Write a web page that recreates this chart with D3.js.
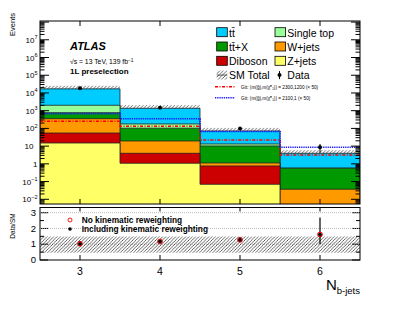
<!doctype html>
<html>
<head>
<meta charset="utf-8">
<title>Nb-jets 1L preselection</title>
<script src="https://d3js.org/d3.v7.min.js"></script>
<style>
  body { margin: 0; background: #fff; }
  text { font-family: "Liberation Sans", Arial, sans-serif; }
</style>
</head>
<body>
<script>
// bins (N b-jets)
var binCenters = [3, 4, 5, 6];
var binEdges = [2.5, 3.5, 4.5, 5.5, 6.5];
var xTickLabels = ["3", "4", "5", "6"];

// backgrounds, stacked bottom -> top
var zjets     = [15, 1.08, 0.07, 0.001];
var diboson   = [40, 2.86, 0.69, 0.002];
var wjets     = [299, 15.6, 0.36, 0.034];
var ttx       = [417, 83.5, 9.1, 0.53];
var singletop = [1247, 75, 3.0, 0.01];
var ttbar     = [15000, 1187, 58.3, 3.37];

// data
var data      = [18400, 1480, 100, 8.6];
var dataErrLo = [135, 38, 10, 4.3];
var dataErrHi = [135, 38, 10, 4.6];

// signals (x 50)
var sigA = [252, 132, 22.2, 3.16];   // 2300,1200
var sigB = [678, 354, 67, 8.6];      // 2100,1

// SM total uncertainty (relative)
var uncLo = [0.46, 0.46, 0.46, 0.46];
var uncHi = [1.49, 1.49, 1.49, 1.49];

// ratio panel
var ratioNoRW   = [1.03, 1.17, 1.28, 1.62];
var ratioRW     = [1.02, 1.17, 1.27, 1.60];
var ratioErrLo  = [0.01, 0.03, 0.12, 0.59];
var ratioErrHi  = [0.01, 0.03, 0.12, 1.10];

var layers = [
  {name: "Z+jets", vals: zjets, color: "#ffff66"},
  {name: "Diboson", vals: diboson, color: "#cc0000"},
  {name: "W+jets", vals: wjets, color: "#ff9900"},
  {name: "t\u0074\u0304+X", vals: ttx, color: "#009900"},
  {name: "Single top", vals: singletop, color: "#99ff99"},
  {name: "t\u0074\u0304", vals: ttbar, color: "#00ccff"}
];

var blueDot = {stroke: "#1a1aff", width: 1.6, dash: "1.3,0.9"};
var redDash = {stroke: "#ff0000", width: 1.4, dash: "3,1.5,1,1.5"};

var svg = d3.select("body").append("svg")
  .attr("width", 407).attr("height", 315);

var defs = svg.append("defs");
function hatch(id, s) {
  var p = defs.append("pattern").attr("id", id)
    .attr("patternUnits", "userSpaceOnUse")
    .attr("width", s).attr("height", s);
  p.append("path")
    .attr("d", "M" + (-1) + "," + 1 + " l2,-2 M0," + s + " l" + s + ",-" + s + " M" + (s - 1) + "," + (s + 1) + " l2,-2")
    .attr("stroke", "#000").attr("stroke-width", 0.6);
}
hatch("hatchMain", 3.5);
hatch("hatchRatio", 3.3);

var L = 40, R = 360, T = 21, B = 204, RT = 207.5, RB = 260;

defs.append("clipPath").attr("id", "clipMain")
  .append("rect").attr("x", L).attr("y", T).attr("width", R - L).attr("height", B - T);
defs.append("clipPath").attr("id", "clipRatio")
  .append("rect").attr("x", L).attr("y", RT).attr("width", R - L).attr("height", RB - RT);

var x = d3.scaleLinear().domain([2.5, 6.5]).range([L, R]);
var y = d3.scaleLog().domain([Math.pow(10, -2.265), Math.pow(10, 8.06)]).range([B, T]);
var yr = d3.scaleLinear().domain([0, 3.33]).range([RB, RT]);

// cumulative stacks
var cum = [];
var run = [0, 0, 0, 0];
layers.forEach(function(l) {
  run = run.map(function(v, i) { return v + l.vals[i]; });
  cum.push({color: l.color, top: run.slice()});
});
var total = run;

function stepArea(vals) {
  var yb = B + 5;
  var d = "M" + x(binEdges[0]) + "," + yb;
  vals.forEach(function(v, i) {
    d += "L" + x(binEdges[i]) + "," + y(v) + "L" + x(binEdges[i + 1]) + "," + y(v);
  });
  d += "L" + x(binEdges[binEdges.length - 1]) + "," + yb + "Z";
  return d;
}
function stepLine(vals) {
  var d = "";
  vals.forEach(function(v, i) {
    d += (i == 0 ? "M" : "L") + x(binEdges[i]) + "," + y(v) + "L" + x(binEdges[i + 1]) + "," + y(v);
  });
  return d;
}

var main = svg.append("g").attr("clip-path", "url(#clipMain)");

// uncertainty band
main.selectAll("rect.unc").data(total).enter().append("rect")
  .attr("x", function(d, i) { return x(binEdges[i]); })
  .attr("width", function(d, i) { return x(binEdges[i + 1]) - x(binEdges[i]); })
  .attr("y", function(d, i) { return y(d * uncHi[i]); })
  .attr("height", function(d, i) { return y(d * uncLo[i]) - y(d * uncHi[i]); })
  .attr("fill", "url(#hatchMain)");

// stacks drawn largest first
main.selectAll("path.stack").data(cum.slice().reverse()).enter().append("path")
  .attr("d", function(d) { return stepArea(d.top); })
  .attr("fill", function(d) { return d.color; })
  .attr("stroke", "#222").attr("stroke-width", 0.8);

// signals
main.append("path").attr("d", stepLine(sigA))
  .attr("fill", "none").attr("stroke", redDash.stroke).attr("stroke-width", redDash.width)
  .attr("stroke-dasharray", redDash.dash);
main.append("path").attr("d", stepLine(sigB))
  .attr("fill", "none").attr("stroke", blueDot.stroke).attr("stroke-width", blueDot.width)
  .attr("stroke-dasharray", blueDot.dash);

// data
main.selectAll("line.derr").data(data).enter().append("line")
  .attr("x1", function(d, i) { return x(binCenters[i]); })
  .attr("x2", function(d, i) { return x(binCenters[i]); })
  .attr("y1", function(d, i) { return y(d - dataErrLo[i]); })
  .attr("y2", function(d, i) { return y(d + dataErrHi[i]); })
  .attr("stroke", "#000").attr("stroke-width", 1);
main.selectAll("circle.data").data(data).enter().append("circle")
  .attr("cx", function(d, i) { return x(binCenters[i]); })
  .attr("cy", function(d) { return y(d); })
  .attr("r", 2).attr("fill", "#000");

// main frame & ticks
var fr = svg.append("g").attr("stroke", "#000").attr("stroke-width", 1).attr("fill", "none");
fr.append("rect").attr("x", L).attr("y", T).attr("width", R - L).attr("height", B - T);
fr.append("rect").attr("x", L).attr("y", RT).attr("width", R - L).attr("height", RB - RT);

var majors = d3.range(-2, 9);
var minors = [];
d3.range(-3, 9).forEach(function(e) {
  for (var k = 2; k <= 9; k++) {
    var v = k * Math.pow(10, e);
    if (v > y.domain()[0] && v < y.domain()[1]) minors.push(v);
  }
});
majors.forEach(function(e) {
  var yy = y(Math.pow(10, e));
  if (yy < T) return;
  fr.append("line").attr("x1", L).attr("x2", L + 9).attr("y1", yy).attr("y2", yy);
  fr.append("line").attr("x1", R).attr("x2", R - 9).attr("y1", yy).attr("y2", yy);
});
minors.forEach(function(v) {
  var yy = y(v);
  fr.append("line").attr("x1", L).attr("x2", L + 4.5).attr("y1", yy).attr("y2", yy);
  fr.append("line").attr("x1", R).attr("x2", R - 4.5).attr("y1", yy).attr("y2", yy);
});
binCenters.forEach(function(c) {
  var xx = x(c);
  fr.append("line").attr("x1", xx).attr("x2", xx).attr("y1", B).attr("y2", B - 5);
  fr.append("line").attr("x1", xx).attr("x2", xx).attr("y1", T).attr("y2", T + 5);
  fr.append("line").attr("x1", xx).attr("x2", xx).attr("y1", RB).attr("y2", RB - 5);
  fr.append("line").attr("x1", xx).attr("x2", xx).attr("y1", RT).attr("y2", RT + 4);
});

// y tick labels (main)
var ylab = svg.append("g").attr("font-size", 8).attr("fill", "#000");
majors.forEach(function(e) {
  if (e > 7) return;
  var yy = y(Math.pow(10, e)) + 3;
  if (e == 0) {
    ylab.append("text").attr("x", 37.5).attr("y", yy).attr("text-anchor", "end").text("1");
  } else if (e == 1) {
    ylab.append("text").attr("x", 33.5).attr("y", yy).attr("text-anchor", "end").text("10");
  } else {
    var t = ylab.append("text").attr("x", 37.5).attr("y", yy).attr("text-anchor", "end");
    t.append("tspan").text("10");
    t.append("tspan").attr("font-size", 5.5).attr("dy", -3.5).text(e < 0 ? "\u2212" + (-e) : e);
  }
});

// ratio panel
var rp = svg.append("g").attr("clip-path", "url(#clipRatio)");
[1, 2, 3].forEach(function(v) {
  rp.append("line").attr("x1", L).attr("x2", R).attr("y1", yr(v)).attr("y2", yr(v))
    .attr("stroke", "#aaa").attr("stroke-width", 0.8).attr("stroke-dasharray", "1,1");
});
rp.selectAll("rect.runc").data(uncLo).enter().append("rect")
  .attr("x", function(d, i) { return x(binEdges[i]); })
  .attr("width", function(d, i) { return x(binEdges[i + 1]) - x(binEdges[i]); })
  .attr("y", function(d, i) { return yr(uncHi[i]); })
  .attr("height", function(d, i) { return yr(d) - yr(uncHi[i]); })
  .attr("fill", "url(#hatchRatio)");
rp.selectAll("line.rerr").data(ratioRW).enter().append("line")
  .attr("x1", function(d, i) { return x(binCenters[i]); })
  .attr("x2", function(d, i) { return x(binCenters[i]); })
  .attr("y1", function(d, i) { return yr(d - ratioErrLo[i]); })
  .attr("y2", function(d, i) { return yr(d + ratioErrHi[i]); })
  .attr("stroke", "#000").attr("stroke-width", 1.2);
rp.selectAll("circle.rw").data(ratioRW).enter().append("circle")
  .attr("cx", function(d, i) { return x(binCenters[i]); })
  .attr("cy", function(d) { return yr(d); })
  .attr("r", 2).attr("fill", "#000");
rp.selectAll("circle.norw").data(ratioNoRW).enter().append("circle")
  .attr("cx", function(d, i) { return x(binCenters[i]); })
  .attr("cy", function(d) { return yr(d); })
  .attr("r", 2.4).attr("fill", "none").attr("stroke", "#e00").attr("stroke-width", 1);

d3.range(0, 3.3, 0.5).forEach(function(v) {
  var len = (v % 1 == 0) ? 8 : 4;
  fr.append("line").attr("x1", L).attr("x2", L + len).attr("y1", yr(v)).attr("y2", yr(v));
  fr.append("line").attr("x1", R).attr("x2", R - len).attr("y1", yr(v)).attr("y2", yr(v));
});
[0, 1, 2, 3].forEach(function(v) {
  svg.append("text").attr("x", 36).attr("y", yr(v) + 3.2).attr("text-anchor", "end")
    .attr("font-size", 9.5).text(v);
});

// x tick labels
svg.selectAll("text.xl").data(xTickLabels).enter().append("text")
  .attr("x", function(d, i) { return x(binCenters[i]); })
  .attr("y", 275).attr("text-anchor", "middle").attr("font-size", 10.5)
  .text(function(d) { return d; });

// axis titles
var xt = svg.append("text").attr("x", 360).attr("y", 290).attr("text-anchor", "end");
xt.append("tspan").attr("font-size", 15).text("N");
xt.append("tspan").attr("font-size", 9.5).attr("dy", 3.5).text("b-jets");
svg.append("text").attr("transform", "translate(14.5,13) rotate(-90)")
  .attr("text-anchor", "end").attr("font-size", 7.5).text("Events");
svg.append("text").attr("transform", "translate(14.5,226) rotate(-90)")
  .attr("text-anchor", "middle").attr("font-size", 6.5).text("Data/SM");

// ATLAS label
svg.append("text").attr("x", 70).attr("y", 50).attr("font-size", 11)
  .attr("font-weight", "bold").attr("font-style", "italic").text("ATLAS");
svg.append("text").attr("x", 70).attr("y", 64).attr("font-size", 6.8)
  .text("\u221As = 13 TeV, 139 fb").append("tspan").attr("dy", -2.5).attr("font-size", 4.8).text("\u22121");
svg.append("text").attr("x", 70).attr("y", 74).attr("font-size", 8)
  .attr("font-weight", "bold").text("1L preselection");

// legend
var leg = svg.append("g").attr("font-size", 10.5);
var legItems = [
  {label: "t\u0074\u0304", color: "#00ccff", col: 0, row: 0},
  {label: "Single top", color: "#99ff99", col: 1, row: 0},
  {label: "t\u0074\u0304+X", color: "#009900", col: 0, row: 1},
  {label: "W+jets", color: "#ff9900", col: 1, row: 1},
  {label: "Diboson", color: "#cc0000", col: 0, row: 2},
  {label: "Z+jets", color: "#ffff66", col: 1, row: 2}
];
var colX = [216.7, 275];
legItems.forEach(function(it) {
  var by = 27.7 + it.row * 14.3;
  leg.append("rect").attr("x", colX[it.col]).attr("y", by).attr("width", 10.6).attr("height", 9)
    .attr("fill", it.color).attr("stroke", "#000").attr("stroke-width", 0.8);
  leg.append("text").attr("x", colX[it.col] + 12.3).attr("y", by + 8.8).text(it.label);
});
var by4 = 27.7 + 3 * 14.3;
leg.append("rect").attr("x", colX[0]).attr("y", by4).attr("width", 10.6).attr("height", 9)
  .attr("fill", "url(#hatchMain)");
leg.append("line").attr("x1", colX[0]).attr("x2", colX[0] + 10.6).attr("y1", by4 + 4.5).attr("y2", by4 + 4.5)
  .attr("stroke", "#000").attr("stroke-width", 0.6);
leg.append("text").attr("x", colX[0] + 12.3).attr("y", by4 + 8.8).text("SM Total");
leg.append("line").attr("x1", 279.5).attr("x2", 279.5).attr("y1", by4 + 0.5).attr("y2", by4 + 8.5)
  .attr("stroke", "#000").attr("stroke-width", 1);
leg.append("circle").attr("cx", 279.5).attr("cy", by4 + 4.5).attr("r", 2).attr("fill", "#000");
leg.append("text").attr("x", 287.3).attr("y", by4 + 8.8).text("Data");

leg.append("line").attr("x1", 215).attr("x2", 235).attr("y1", 86.7).attr("y2", 86.7)
  .attr("stroke", redDash.stroke).attr("stroke-width", redDash.width).attr("stroke-dasharray", redDash.dash);
leg.append("line").attr("x1", 215).attr("x2", 235).attr("y1", 97.7).attr("y2", 97.7)
  .attr("stroke", blueDot.stroke).attr("stroke-width", blueDot.width).attr("stroke-dasharray", blueDot.dash);
leg.append("text").attr("x", 241).attr("y", 88.5).attr("font-size", 4.7)
  .text("Gtt: (m(g\u0303),m(\u03C7\u0303\u2070\u2081)) = 2300,1200 (\u00D7 50)");
leg.append("text").attr("x", 241).attr("y", 99.5).attr("font-size", 4.7)
  .text("Gtt: (m(g\u0303),m(\u03C7\u0303\u2070\u2081)) = 2100,1 (\u00D7 50)");

// ratio legend
svg.append("circle").attr("cx", 70).attr("cy", 220).attr("r", 2)
  .attr("fill", "none").attr("stroke", "#e00").attr("stroke-width", 0.9);
svg.append("circle").attr("cx", 70).attr("cy", 229).attr("r", 1.8).attr("fill", "#000");
svg.append("text").attr("x", 81.7).attr("y", 222.5).attr("font-size", 8.3)
  .attr("font-weight", "bold").text("No kinematic reweighting");
svg.append("text").attr("x", 81.7).attr("y", 231.7).attr("font-size", 8.3)
  .attr("font-weight", "bold").text("Including kinematic reweighting");
</script>
</body>
</html>
